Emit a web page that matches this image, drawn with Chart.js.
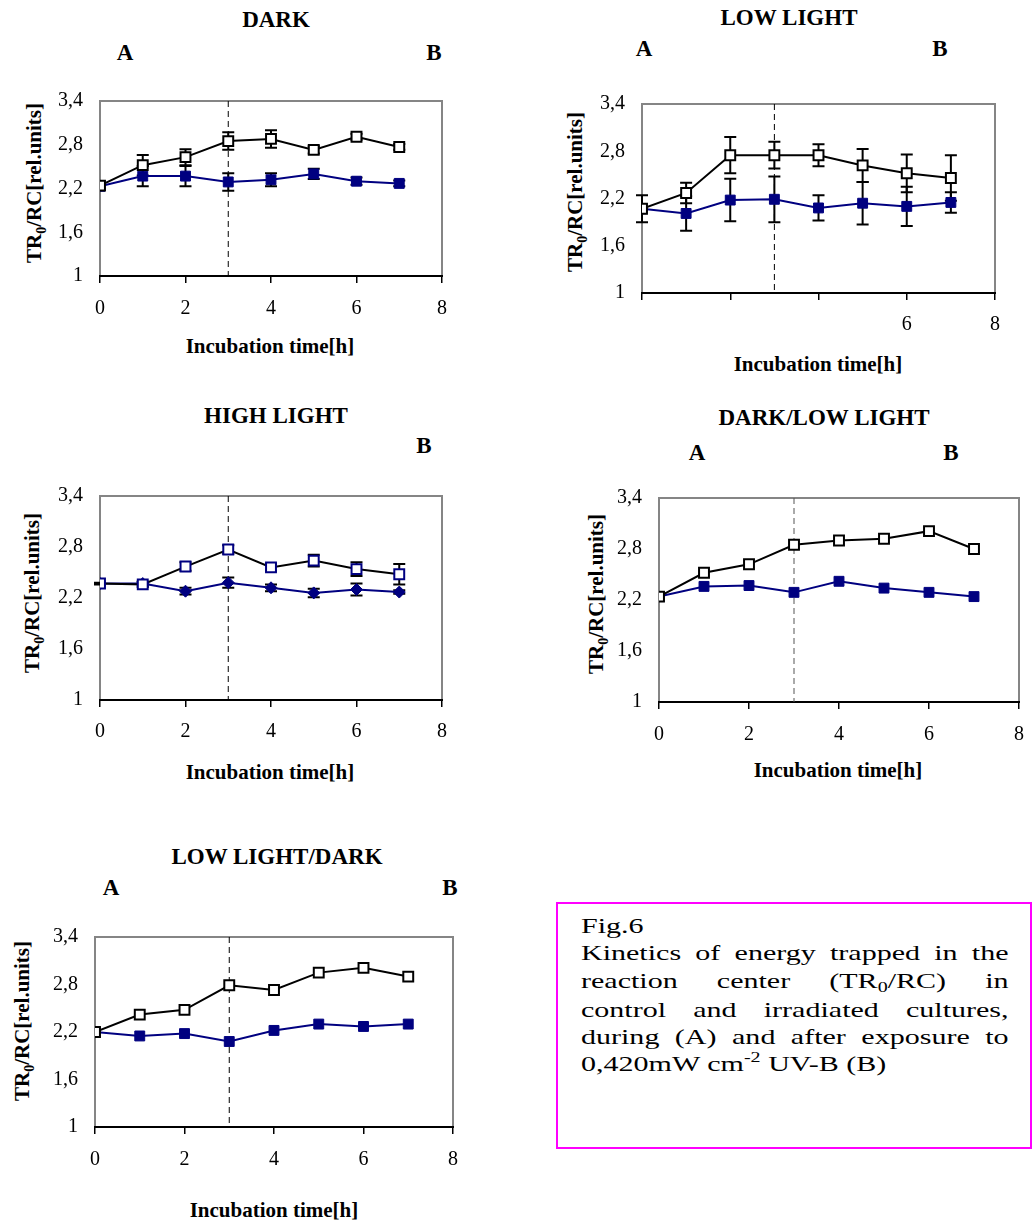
<!DOCTYPE html>
<html>
<head>
<meta charset="utf-8">
<script src="https://cdn.jsdelivr.net/npm/chart.js@4.4.0/dist/chart.umd.min.js"></script>
<style>
body{margin:0;background:#fff;width:1035px;height:1221px;position:relative;overflow:hidden;font-family:"Liberation Serif","Times New Roman",serif;color:#000}
canvas{position:absolute}
.t{position:absolute;transform:translate(-50%,-50%);white-space:nowrap;font-weight:bold;font-size:23px;line-height:1}
.xt{font-size:21px}
.yt{position:absolute;transform:translate(-50%,-50%) rotate(-90deg);white-space:nowrap;font-weight:bold;font-size:21px;line-height:1}
.yt span,.cap span{position:relative;font-size:14px}
#box{position:absolute;left:556px;top:902px;width:476px;height:247px;border:2px solid #f0f;box-sizing:border-box}
#capText{position:absolute;left:581px;top:913px;width:299px;transform:scaleX(1.43);transform-origin:0 0;font-size:21px;line-height:27.3px}
.j{text-align:justify;text-align-last:justify;white-space:nowrap}
</style>
</head>
<body>

<!-- headings -->
<div class="t" style="left:276px;top:19px">DARK</div>
<div class="t" style="left:125px;top:52px">A</div>
<div class="t" style="left:434px;top:52px">B</div>
<div class="t" style="left:789px;top:17px">LOW LIGHT</div>
<div class="t" style="left:644px;top:48px">A</div>
<div class="t" style="left:940px;top:48px">B</div>
<div class="t" style="left:276px;top:415px">HIGH LIGHT</div>
<div class="t" style="left:424px;top:445px">B</div>
<div class="t" style="left:824px;top:417px">DARK/LOW LIGHT</div>
<div class="t" style="left:697px;top:452px">A</div>
<div class="t" style="left:951px;top:452px">B</div>
<div class="t" style="left:277px;top:856px">LOW LIGHT/DARK</div>
<div class="t" style="left:111px;top:887px">A</div>
<div class="t" style="left:450px;top:887px">B</div>

<!-- axis titles -->
<div class="t xt" style="left:270px;top:346px">Incubation time[h]</div>
<div class="t xt" style="left:818px;top:364px">Incubation time[h]</div>
<div class="t xt" style="left:270px;top:772px">Incubation time[h]</div>
<div class="t xt" style="left:838px;top:770px">Incubation time[h]</div>
<div class="t xt" style="left:274px;top:1210px">Incubation time[h]</div>

<div class="yt" style="left:34px;top:183px">TR<span style="top:5px">0</span>/RC[rel.units]</div>
<div class="yt" style="left:575px;top:192px">TR<span style="top:5px">0</span>/RC[rel.units]</div>
<div class="yt" style="left:32px;top:593px">TR<span style="top:5px">0</span>/RC[rel.units]</div>
<div class="yt" style="left:596px;top:594px">TR<span style="top:5px">0</span>/RC[rel.units]</div>
<div class="yt" style="left:22px;top:1021px">TR<span style="top:5px">0</span>/RC[rel.units]</div>

<canvas id="c1"></canvas>
<canvas id="c2"></canvas>
<canvas id="c3"></canvas>
<canvas id="c4"></canvas>
<canvas id="c5"></canvas>

<div id="box"></div>
<div id="capText" class="cap">
  <div>Fig.6</div>
  <div class="j">Kinetics of energy trapped in the</div>
  <div class="j">reaction center (TR<span style="top:4px">0</span>/RC) in</div>
  <div class="j">control and irradiated cultures,</div>
  <div class="j">during (A) and after exposure to</div>
  <div>0,420mW cm<span style="top:-9px">-2</span> UV-B (B)</div>
</div>

<script>
// time points [h]
const hours = [0, 1, 2, 3, 4, 5, 6, 7];
const xTickValues = [0, 2, 4, 6, 8];
const xTickLabels = ['0', '2', '4', '6', '8'];
const xTickLabelsLow = ['', '', '', '6', '8'];
const yTickValues = [1, 1.6, 2.2, 2.8, 3.4];
const yTickLabels = ['1', '1,6', '2,2', '2,8', '3,4'];
const markLine = 3;

// DARK
const darkControl = [2.24, 2.52, 2.63, 2.85, 2.88, 2.73, 2.91, 2.77];
const darkControlErr = [0, 0.14, 0.11, 0.12, 0.12, 0.05, 0.04, 0.04];
const darkUV = [2.23, 2.37, 2.37, 2.29, 2.32, 2.40, 2.30, 2.27];
const darkUVErr = [0, 0.14, 0.14, 0.12, 0.09, 0.07, 0.05, 0.04];

// LOW LIGHT
const lowControl = [2.07, 2.27, 2.75, 2.75, 2.75, 2.62, 2.52, 2.46];
const lowControlErr = [0.17, 0.13, 0.23, 0.17, 0.14, 0.21, 0.24, 0.29];
const lowUV = [2.07, 2.01, 2.18, 2.19, 2.08, 2.14, 2.10, 2.15];
const lowUVErr = [0, 0.22, 0.27, 0.29, 0.16, 0.27, 0.25, 0.13];

// HIGH LIGHT
const highControl = [2.37, 2.36, 2.57, 2.77, 2.56, 2.64, 2.54, 2.48];
const highControlErr = [0.01, 0.03, 0.05, 0.05, 0.04, 0.07, 0.08, 0.12];
const highUV = [2.37, 2.37, 2.28, 2.38, 2.32, 2.26, 2.30, 2.27];
const highUVErr = [0, 0.02, 0.04, 0.06, 0.04, 0.05, 0.07, 0.02];

// DARK/LOW LIGHT
const darkLowControl = [2.24, 2.52, 2.62, 2.85, 2.90, 2.92, 3.01, 2.80];
const darkLowUV = [2.24, 2.36, 2.37, 2.29, 2.42, 2.34, 2.29, 2.24];

// LOW LIGHT/DARK
const lowDarkControl = [2.20, 2.42, 2.48, 2.79, 2.73, 2.95, 3.01, 2.90];
const lowDarkUV = [2.20, 2.15, 2.18, 2.08, 2.22, 2.30, 2.27, 2.30];

const NAVY = '#000080';
const FONT = '"Liberation Serif", "Times New Roman", serif';
const PAD_L = 80, PAD_T = 16, PAD_R = 20, X_H = 48;

const panels = [
  {id: 'c1', area: [100, 88, 442, 276], ctl: darkControl, ctlErr: darkControlErr, uv: darkUV, uvErr: darkUVErr, xl: xTickLabels, xPad: 14},
  {id: 'c2', area: [642, 91, 995, 293], ctl: lowControl, ctlErr: lowControlErr, uv: lowUV, uvErr: lowUVErr, xl: xTickLabelsLow, xPad: 13},
  {id: 'c3', area: [100, 483, 442, 700], ctl: highControl, ctlErr: highControlErr, uv: highUV, uvErr: highUVErr, xl: xTickLabels, xPad: 13, high: true},
  {id: 'c4', area: [659, 485, 1019, 702], ctl: darkLowControl, uv: darkLowUV, xl: xTickLabels, xPad: 14, gray: true},
  {id: 'c5', area: [95, 924, 453, 1127], ctl: lowDarkControl, uv: lowDarkUV, xl: xTickLabels, xPad: 14}
];

function pts(vals) {
  return hours.map((h, i) => ({x: h, y: vals[i]}));
}

// frame, dashed line at 3 h and error bars, drawn under the markers
const framePlugin = {
  id: 'frame',
  beforeDatasetsDraw(chart, args, opts) {
    const {ctx, chartArea: a, scales} = chart;
    ctx.save();
    ctx.lineWidth = 2;
    ctx.strokeStyle = '#858585';
    ctx.beginPath();
    ctx.moveTo(a.left, a.bottom);
    ctx.lineTo(a.left, a.top);
    ctx.lineTo(a.right, a.top);
    ctx.lineTo(a.right, a.bottom);
    ctx.stroke();
    ctx.strokeStyle = '#000';
    ctx.beginPath();
    ctx.moveTo(a.left - 1, a.bottom);
    ctx.lineTo(a.right + 1, a.bottom);
    ctx.stroke();

    const xm = scales.x.getPixelForValue(markLine);
    ctx.lineWidth = 1;
    ctx.strokeStyle = opts.gray ? '#555' : '#000';
    ctx.setLineDash([6, 4]);
    ctx.beginPath();
    ctx.moveTo(xm, a.top);
    ctx.lineTo(xm, a.bottom);
    ctx.stroke();
    ctx.setLineDash([]);

    ctx.strokeStyle = '#000';
    ctx.lineWidth = 2;
    chart.data.datasets.forEach(ds => {
      if (!ds.errors) return;
      ds.errors.forEach((e, i) => {
        if (!e) return;
        const x = scales.x.getPixelForValue(hours[i]);
        const y1 = scales.y.getPixelForValue(ds.data[i].y + e);
        const y2 = scales.y.getPixelForValue(ds.data[i].y - e);
        ctx.beginPath();
        ctx.moveTo(x, y1); ctx.lineTo(x, y2);
        ctx.moveTo(x - 6, y1); ctx.lineTo(x + 6, y1);
        ctx.moveTo(x - 6, y2); ctx.lineTo(x + 6, y2);
        ctx.stroke();
      });
    });
    ctx.restore();
  }
};

panels.forEach(p => {
  const [l, t, r, b] = p.area;
  const cv = document.getElementById(p.id);
  const w = (r - l) + PAD_L + PAD_R;
  const h = (b - t) + PAD_T + X_H;
  cv.width = w; cv.height = h;
  cv.style.left = (l - PAD_L) + 'px';
  cv.style.top = (t - PAD_T) + 'px';

  const control = {
    data: pts(p.ctl), errors: p.ctlErr,
    borderColor: '#000', borderWidth: 2,
    pointStyle: 'rect', pointRadius: 7, pointBorderWidth: 2,
    pointBackgroundColor: '#fff', pointBorderColor: p.high ? NAVY : '#000'
  };
  const uv = {
    data: pts(p.uv), errors: p.uvErr,
    borderColor: NAVY, borderWidth: 2,
    pointStyle: p.high ? 'rectRot' : 'rect', pointRadius: p.high ? 6 : 7, pointBorderWidth: 1,
    pointBackgroundColor: NAVY, pointBorderColor: NAVY
  };

  new Chart(cv, {
    type: 'line',
    data: {datasets: [control, uv]},
    plugins: [framePlugin],
    options: {
      responsive: false,
      animation: false,
      devicePixelRatio: 1,
      layout: {padding: {left: 0, top: PAD_T, right: PAD_R, bottom: 0}},
      plugins: {legend: {display: false}, tooltip: {enabled: false}, frame: {gray: !!p.gray}},
      elements: {line: {tension: 0}},
      scales: {
        x: {
          type: 'linear', min: 0, max: 8,
          afterFit: s => { s.height = X_H; },
          afterBuildTicks: s => { s.ticks = xTickValues.map(v => ({value: v})); },
          border: {display: false},
          grid: {display: true, drawOnChartArea: false, drawTicks: true, tickLength: 7, color: '#000', lineWidth: 1.5},
          ticks: {
            autoSkip: false, maxRotation: 0, padding: p.xPad, color: '#000',
            font: {family: FONT, size: 20},
            callback: (v, i) => p.xl[i]
          }
        },
        y: {
          type: 'linear', min: 1, max: 3.4,
          afterFit: s => { s.width = PAD_L; },
          afterBuildTicks: s => { s.ticks = yTickValues.map(v => ({value: v})); },
          border: {display: false},
          grid: {display: false, drawTicks: false},
          ticks: {
            autoSkip: false, padding: 17, color: '#000',
            font: {family: FONT, size: 20},
            callback: (v, i) => yTickLabels[i]
          }
        }
      }
    }
  });
});
</script>
</body>
</html>
